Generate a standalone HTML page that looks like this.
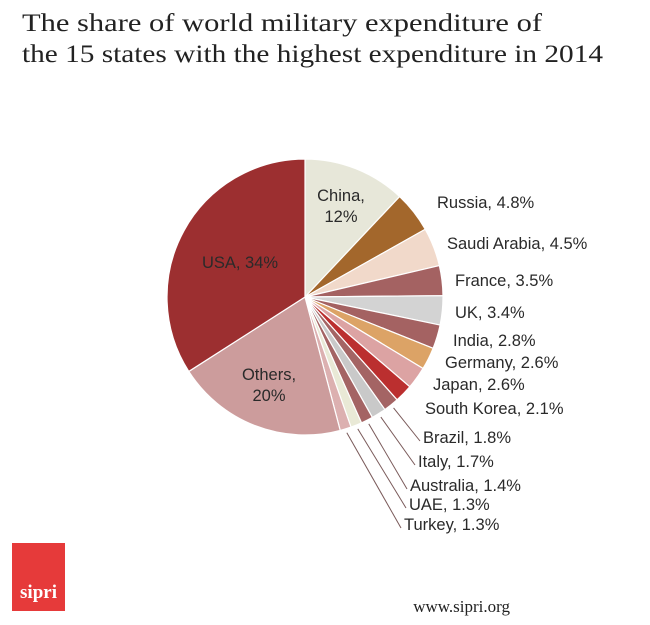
<!DOCTYPE html>
<html><head><meta charset="utf-8"><style>
body{margin:0;background:#fff;}
svg{display:block;}
</style></head><body>
<svg width="650" height="625" viewBox="0 0 650 625" id="chart">
<text x="22" y="31" font-family="Liberation Serif, serif" font-size="25" fill="#222" textLength="520" lengthAdjust="spacingAndGlyphs">The share of world military expenditure of</text>
<text x="22" y="62" font-family="Liberation Serif, serif" font-size="25" fill="#222" textLength="581" lengthAdjust="spacingAndGlyphs">the 15 states with the highest expenditure in 2014</text>
<g id="slices"></g>
<g id="labels"></g>
<rect x="12" y="543" width="53" height="68" fill="#e63a3a"/>
<text x="38.5" y="598" text-anchor="middle" font-family="Liberation Serif, serif" font-weight="bold" font-size="19" fill="#fff">sipri</text>
<text x="510" y="612" text-anchor="end" font-family="Liberation Serif, serif" font-size="17" fill="#222">www.sipri.org</text>
</svg>
<script>
const countries=["China","Russia","Saudi Arabia","France","UK","India","Germany","Japan","South Korea","Brazil","Italy","Australia","UAE","Turkey","Others","USA"];
const shares=[12,4.8,4.5,3.5,3.4,2.8,2.6,2.6,2.1,1.8,1.7,1.4,1.3,1.3,20,34];
const colors=["#e7e7d9","#a3672c","#f1d9ca","#a46262","#d3d3d3","#a46262","#dca366","#dca3a3","#bb2f2f","#a46464","#c9c9c9","#a46464","#e9e9d6","#dcb0b0","#cc9c9c","#9c2f30"];
const outsideLabelPos=[null,[437,208],[447,249],[455,286],[455,318],[453,346],[445,368],[433,390],[425,414],[423,443],[418,467],[410,491],[409,510],[404,530]];
const cx=305,cy=297,R=138;
const ns="http://www.w3.org/2000/svg";
const gS=document.getElementById('slices'),gL=document.getElementById('labels');
const total=shares.reduce((a,b)=>a+b,0);
function pt(a,r){return [cx+r*Math.sin(a),cy-r*Math.cos(a)];}
let acc=0;
shares.forEach((v,i)=>{
  const a0=acc/total*2*Math.PI; acc+=v; const a1=acc/total*2*Math.PI;
  const p0=pt(a0,R),p1=pt(a1,R);
  const p=document.createElementNS(ns,'path');
  p.setAttribute('d',`M${cx},${cy}L${p0[0]},${p0[1]}A${R},${R} 0 ${a1-a0>Math.PI?1:0} 1 ${p1[0]},${p1[1]}Z`);
  p.setAttribute('fill',colors[i]);p.setAttribute('stroke','#fff');p.setAttribute('stroke-width','1.2');
  
  
  gS.appendChild(p);
  const am=(a0+a1)/2;
  const txt=countries[i]+', '+v+'%';
  if(i<14 && i>0){
    const [lx,ly]=outsideLabelPos[i];
    if(i>=9){
      const s=pt(am,R+4);
      const l=document.createElementNS(ns,'line');
      l.setAttribute('x1',s[0]);l.setAttribute('y1',s[1]);l.setAttribute('x2',lx-3);l.setAttribute('y2',ly-2);
      l.setAttribute('stroke','#7a5a5a');l.setAttribute('stroke-width','1');
      
      
      gL.appendChild(l);
    }
    const t=document.createElementNS(ns,'text');
    t.setAttribute('x',lx);t.setAttribute('y',ly);t.setAttribute('font-family','Liberation Sans, sans-serif');t.setAttribute('font-size','16.5');t.setAttribute('fill','#2a2a2a');
    t.textContent=txt;
    
    
    gL.appendChild(t);
  } else {
    const t=document.createElementNS(ns,'text');
    t.setAttribute('font-family','Liberation Sans, sans-serif');t.setAttribute('font-size','16.5');t.setAttribute('fill','#2a2a2a');t.setAttribute('text-anchor','middle');
    let x,y;
    if(countries[i]==='USA'){x=240;y=268;t.textContent=txt;t.setAttribute('x',x);t.setAttribute('y',y);}
    else {
      if(countries[i]==='China'){x=341;y=201;}else{x=269;y=380;}
      const t1=document.createElementNS(ns,'tspan');t1.setAttribute('x',x);t1.setAttribute('y',y);t1.textContent=countries[i]+',';
      const t2=document.createElementNS(ns,'tspan');t2.setAttribute('x',x);t2.setAttribute('y',y+21);t2.textContent=v+'%';
      t.appendChild(t1);t.appendChild(t2);
    }
    
    
    gL.appendChild(t);
  }
});
</script>
</body></html>
